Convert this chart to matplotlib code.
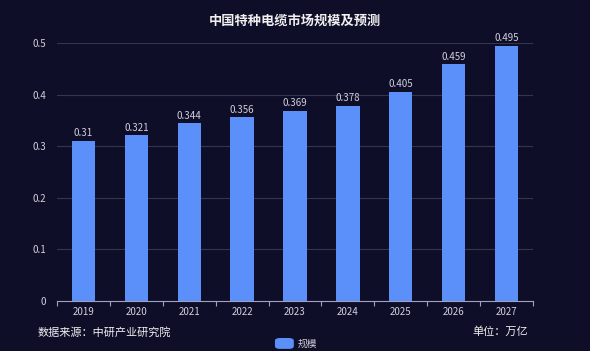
import matplotlib.pyplot as plt
from matplotlib.patches import FancyBboxPatch
import numpy as np

plt.rcParams['font.family'] = ['Noto Sans CJK SC', 'DejaVu Sans']

years = ['2019', '2020', '2021', '2022', '2023', '2024', '2025', '2026', '2027']
values = [0.31, 0.321, 0.344, 0.356, 0.369, 0.378, 0.405, 0.459, 0.495]

bg = '#0f0e29'
bar_color = '#5b8ff9'
text_color = '#d0d0dc'

fig = plt.figure(figsize=(5.9, 3.51), dpi=100, facecolor=bg)
ax = fig.add_axes([0.0966, 0.1425, 0.8068, 0.735], facecolor=bg)

x = np.arange(len(years))
bars = ax.bar(x, values, width=0.44, color=bar_color, zorder=3)
for xi, v in zip(x, values):
    ax.text(xi, v + 0.005, f'{v:g}', ha='center', va='bottom', fontsize=7, color=text_color)

ax.set_xlim(-0.5, len(years) - 0.5)
ax.set_ylim(0, 0.5)
ax.set_yticks([0, 0.1, 0.2, 0.3, 0.4, 0.5])
ax.set_yticklabels(['0', '0.1', '0.2', '0.3', '0.4', '0.5'])
ax.set_xticks(x)
ax.set_xticklabels(years)
ax.set_xticks(np.arange(-0.5, len(years)), minor=True)
ax.tick_params(axis='x', which='major', length=0, colors=text_color, labelsize=7, pad=4)
ax.tick_params(axis='x', which='minor', length=3.5, color='#a0a0c0', width=0.8)
ax.tick_params(axis='y', length=0, colors=text_color, labelsize=7, pad=8)
ax.grid(axis='y', color='#34344a', linewidth=0.8, zorder=0)
for s in ['top', 'right', 'left']:
    ax.spines[s].set_visible(False)
ax.spines['bottom'].set_color('#a0a0c0')
ax.spines['bottom'].set_linewidth(0.8)
ax.spines['bottom'].set_zorder(4)

fig.text(0.5, 0.941, '中国特种电缆市场规模及预测', ha='center', va='center',
         fontsize=9.5, fontweight='bold', color='#f0f0f0')
fig.text(0.063, 0.054, '数据来源：中研产业研究院', ha='left', va='center', fontsize=8, color='#f0f0f0')
fig.text(0.895, 0.054, '单位：万亿', ha='right', va='center', fontsize=8, color='#f0f0f0')

# legend
fig.patches.append(FancyBboxPatch((0.466, 0.006), 0.032, 0.031, boxstyle='round,pad=0,rounding_size=0.008',
                                  transform=fig.transFigure, facecolor=bar_color, edgecolor='none'))
fig.text(0.505, 0.021, '规模', ha='left', va='center', fontsize=7, color=text_color)

fig.savefig('out.png', dpi=100, facecolor=bg)
